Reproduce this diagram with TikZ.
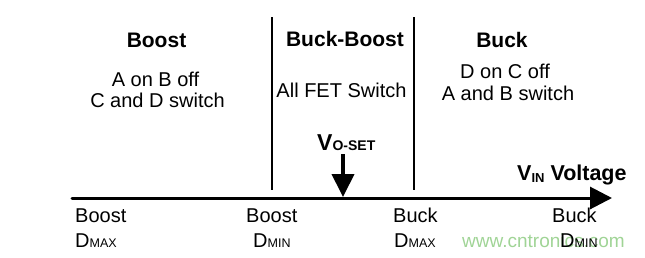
\documentclass[tikz,border=0pt]{standalone}
\usepackage{fontspec}
\setmainfont{Liberation Sans}
\usepackage{xcolor}
\usetikzlibrary{arrows.meta,positioning}
\definecolor{markgreen}{RGB}{160,212,150}
\newcommand{\subtxt}[1]{{\fontsize{12.5}{13}\selectfont #1}}

\begin{document}
\begin{tikzpicture}[x=1pt,y=-1pt,
		txt/.style={inner sep=0pt,anchor=base,font=\fontsize{20}{20}\selectfont},
		head/.style={txt,font=\fontsize{21}{21}\selectfont\bfseries},
		lowtxt/.style={txt,anchor=base west},
		divider/.style={line width=1.4pt}]
		
		\useasboundingbox (0,0) rectangle (645,257);
		
		% region dividers
		\coordinate (d1top) at (272,17);
		\coordinate (d1bot) at (272,190);
		\coordinate (d2top) at (414,17);
		\coordinate (d2bot) at (414,190);
		\draw[divider] (d1top)--(d1bot);
		\draw[divider] (d2top)--(d2bot);
		
		% input voltage axis
		\coordinate (ax0) at (72,198);
		\coordinate (ax1) at (612,198);
		\draw[line width=3pt,line cap=round,-{Triangle[length=22pt,width=22pt]}] (ax0)--(ax1);
		
		% set point arrow
		\coordinate (vsetTop) at (343,154);
		\coordinate (vsetTip) at (343,197);
		\draw[line width=4pt,-{Triangle[length=23pt,width=22pt]}] (vsetTop)--(vsetTip);
		
		\node[head] (boostHead) at (156.5,47) {Boost};
		\node[txt] (boostA) at (155.5,86) {A on B off};
		\node[txt] (boostB) at (157.5,107) {C and D switch};
		
		\node[head] (bbHead) at (345,46) {Buck-Boost};
		\node[txt] (bbA) at (341.5,97) {All FET Switch};
		
		\node[head] (buckHead) at (502,47) {Buck};
		\node[txt] (buckA) at (505,78) {D on C off};
		\node[txt] (buckB) at (508,100) {A and B switch};
		
		\node[lowtxt,font=\fontsize{23}{23}\selectfont\bfseries] (vset) at (317,150) {V{\fontsize{14}{14}\selectfont O-SET}};
		\node[lowtxt,font=\fontsize{21.5}{22}\selectfont\bfseries] (vin) at (517,180) {V\raisebox{-2pt}{\fontsize{13}{13}\selectfont IN} Voltage};
		
		\node[lowtxt] (boostMaxA) at (75,222) {Boost};
		\node[lowtxt] (boostMaxB) at (75,247) {D\subtxt{MAX}};
		\node[lowtxt] (boostMinA) at (246,222) {Boost};
		\node[lowtxt] (boostMinB) at (253,247) {D\subtxt{MIN}};
		\node[lowtxt] (buckMaxA) at (393,222) {Buck};
		\node[lowtxt] (buckMaxB) at (394,247) {D\subtxt{MAX}};
		\node[lowtxt,text=markgreen,font=\fontsize{19}{19}\selectfont] (mark) at (462,247) {www.cntronics.com};
		\node[lowtxt] (buckMinA) at (552,222) {Buck};
		\node[lowtxt] (buckMinB) at (560,247) {D\subtxt{MIN}};
		
	\end{tikzpicture}
\end{document}
